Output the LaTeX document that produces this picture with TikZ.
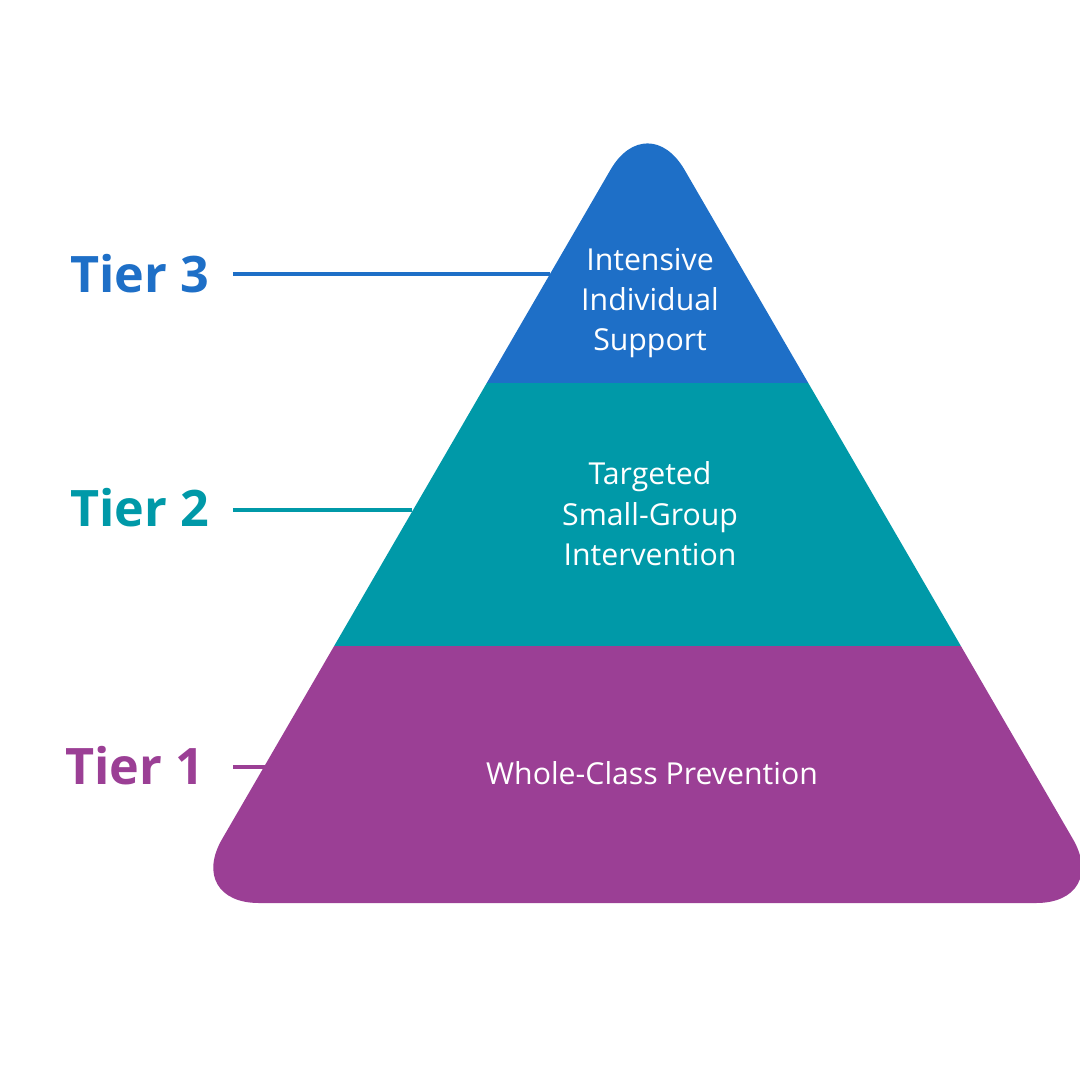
\documentclass[tikz,border=0pt]{standalone}
\usepackage{fontspec}
\setmainfont{Open Sans}
\definecolor{tierthree}{HTML}{1E6FC7}
\definecolor{tiertwo}{HTML}{0099A8}
\definecolor{tierone}{HTML}{9B3F95}
\begin{document}
\begin{tikzpicture}[x=0.01cm, y=-0.01cm]
\tikzstyle{tier} = [font=\bfseries\fontsize{14.3}{17}\selectfont, anchor=east, inner sep=0pt]
\tikzstyle{band} = [font=\fontsize{8.6}{11.5}\selectfont, text=white, align=center]
\tikzstyle{leader} = [line width=1.2pt]
\useasboundingbox (0,0) rectangle (1080,1080);

% pyramid bands clipped to the rounded triangle
\begin{scope}
\clip[rounded corners=21pt] (647.5,106) -- (1110,903) -- (185,903) -- cycle;
\fill[tierone] (0,646) rectangle (1200,1000);
\fill[tiertwo] (0,383) rectangle (1200,646);
\fill[tierthree] (0,0) rectangle (1200,383);
\end{scope}

% texts
\node[band] (Top) at (650,303) {Intensive\\Individual\\Support};
\node[band] (Middle) at (650,514) {Targeted\\Small-Group\\Intervention};
\node[band] (Bottom) at (652,773) {Whole-Class Prevention};

% tier labels and leaders
\node[tier, text=tierthree] (TierThree) at (210,274) {Tier 3};
\node[tier, text=tiertwo] (TierTwo) at (210,508) {Tier 2};
\node[tier, text=tierone] (TierOne) at (205,766) {Tier 1};
\coordinate (EdgeThree) at (550,274);
\coordinate (EdgeTwo) at (412,510);
\coordinate (EdgeOne) at (268,767);
\draw[leader, tierthree] ([xshift=6.5pt]TierThree.east |- EdgeThree) -- (EdgeThree);
\draw[leader, tiertwo] ([xshift=6.5pt]TierTwo.east |- EdgeTwo) -- (EdgeTwo);
\draw[leader, tierone] ([xshift=8pt]TierOne.east |- EdgeOne) -- (EdgeOne);
\end{tikzpicture}
\end{document}
